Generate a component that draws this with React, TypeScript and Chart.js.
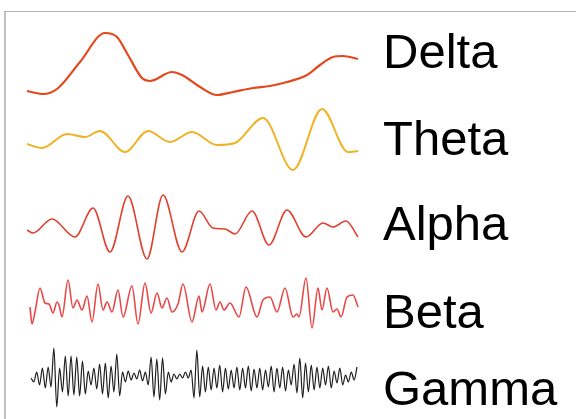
import React, { useEffect, useRef } from 'react';
import { Chart, registerables } from 'chart.js';

Chart.register(...registerables);

// ---- data (time in samples, amplitude in arbitrary units, 0 = label line of each band) ----
const bandNames = ['Delta', 'Theta', 'Alpha', 'Beta', 'Gamma'];

const deltaT = [0, 16, 30, 53, 78, 90, 101, 115, 123, 145, 155, 173, 190, 206, 226, 243, 260, 280, 293, 306, 316, 331];
const deltaV = [-37, -40, -35, -8, 21, 17, -1, -24, -27, -18, -21, -33, -41, -38, -34, -32, -28, -21, -11, -3, -2, -5];

const thetaT = [0, 15, 40, 58, 73, 98, 121, 143, 165, 190, 208, 236, 266, 295, 321, 331];
const thetaV = [-3, -7, 7, 4, 10, -11, 10, -1, 9, -4, -2, 23, -29, 32, -11, -10];

const alphaT = [0, 6, 25, 48, 66, 83, 101, 120, 136, 155, 172, 186, 198, 208, 225, 242, 260, 279, 296, 306, 319, 331];
const alphaV = [-4, -7, 7, -11, 18, -26, 30, -33, 31, -26, 15, -2, -3, -8, 15, -19, 16, -11, 3, -1, 5, -11];

const betaT = [3, 5, 8, 13, 18, 22, 26, 30, 32, 35, 41, 46, 50, 55, 60, 65, 71, 76, 80, 85, 91, 96, 105, 111, 118, 124, 130, 135, 140, 145, 151, 156, 165, 172, 175, 183, 189, 193, 197, 203, 212, 219, 230, 236, 243, 250, 258, 266, 270, 272, 279, 285, 291, 295, 300, 306, 310, 314, 320, 326, 331];
const betaV = [7, -10, 2, 26, 11, 10, 1, 12, 9, -3, 34, 6, 14, 4, 18, -8, 30, 4, 12, 2, 24, -3, 28, -10, 31, 1, 21, 6, 16, 2, 10, 30, -8, 18, 2, 30, 4, 12, 4, 11, -3, 27, -3, 14, 17, 2, 26, -3, 0, -3, 36, -14, 26, 4, 26, 2, 5, -3, 17, 19, 7];

// gamma: uniformly sampled between gammaSpan[0] and gammaSpan[1]
const gammaSpan = [4, 330];
const gammaV = [
  13, 9, 19, 6, 23, 3, 24, 4,
  43, -16,
  23, -1, 35, -5, 35, -4, 34, -5, 30, -3,
  20, 6, 23, 2, 27, -3,
  28, -7, 25, -1, 37, -5,
  19, 9, 20, 11, 18, 12, 21, 10, 19, 6,
  34, -6, 32, -9, 33, -3, 19, 9,
  17, 12, 17, 13, 19, 13, 21, -7,
  41, -6,
  25, -1, 24, 1, 23, 3, 26, -1, 23, 2, 21, 3,
  24, 1, 23, 3, 25, 0, 22, 3, 23, 1, 21, 4, 25, -1, 23, 3, 24, 0,
  21, 6, 27, -2, 33, -7, 28, -1, 26, 1,
  24, 3, 23, 6, 25, 3, 20, 8, 23, 6, 16, 9, 19, 11, 24,
];

// ---- styles / band extents ----
const bandStyles = [
  { color: '#e4481c', width: 2.2, min: -43, max: 42 },
  { color: '#efb325', width: 2, min: -42, max: 44 },
  { color: '#e0412f', width: 1.6, min: -44, max: 43 },
  { color: '#e84848', width: 1.6, min: -38, max: 44 },
  { color: '#1e1e1e', width: 1.2, min: -26, max: 39 },
];

function pairs(t: number[], v: number[]) {
  return v.map((y, i) => ({ x: t[i], y }));
}

export default function App() {
  const ref = useRef<HTMLCanvasElement>(null);

  useEffect(() => {
    if (!ref.current) return;
    const gammaT = gammaV.map(
      (_, i) => gammaSpan[0] + (i * (gammaSpan[1] - gammaSpan[0])) / (gammaV.length - 1)
    );
    const series = [
      pairs(deltaT, deltaV),
      pairs(thetaT, thetaV),
      pairs(alphaT, alphaV),
      pairs(betaT, betaV),
      pairs(gammaT, gammaV),
    ];

    const scales: any = {
      x: { type: 'linear', display: false, min: 0, max: 331 },
    };
    bandNames.forEach((name, i) => {
      const s = bandStyles[i];
      scales['y' + i] = {
        type: 'linear',
        position: 'right',
        stack: 'bands',
        stackWeight: s.max - s.min,
        min: s.min,
        max: s.max,
        grid: { display: false, drawTicks: false },
        border: { display: false },
        ticks: {
          padding: 25,
          color: '#000',
          font: { family: "'Liberation Sans', Arial, sans-serif", size: 49 },
          callback: () => name,
        },
        afterBuildTicks: (axis: any) => {
          axis.ticks = [{ value: 0 }];
        },
        afterFit: (axis: any) => {
          axis.width = 218;
          axis.paddingTop = 0;
          axis.paddingBottom = 0;
        },
      };
    });

    const chart = new Chart(ref.current, {
      type: 'line',
      data: {
        datasets: series.map((data, i) => ({
          label: bandNames[i],
          data,
          xAxisID: 'x',
          yAxisID: 'y' + i,
          borderColor: bandStyles[i].color,
          borderWidth: bandStyles[i].width,
          pointRadius: 0,
          fill: false,
          cubicInterpolationMode: 'monotone',
          clip: false,
        })),
      },
      options: {
        animation: false,
        responsive: false,
        devicePixelRatio: 1,
        layout: { padding: { left: 27, top: 12, right: 0, bottom: 2 } },
        plugins: { legend: { display: false }, tooltip: { enabled: false } },
        scales,
      } as any,
    });
    return () => chart.destroy();
  }, []);

  return (
    <div style={{ position: 'fixed', left: 0, top: 0, width: 576, height: 419, background: '#fff', overflow: 'hidden' }}>
      <div
        style={{
          position: 'absolute',
          left: 4,
          top: 11,
          right: 0,
          bottom: 0,
          borderTop: '1px solid #b0b0b8',
          borderLeft: '2px solid #c0c0c4',
        }}
      />
      <canvas ref={ref} width={576} height={419} style={{ position: 'absolute', left: 0, top: 0 }} />
    </div>
  );
}
